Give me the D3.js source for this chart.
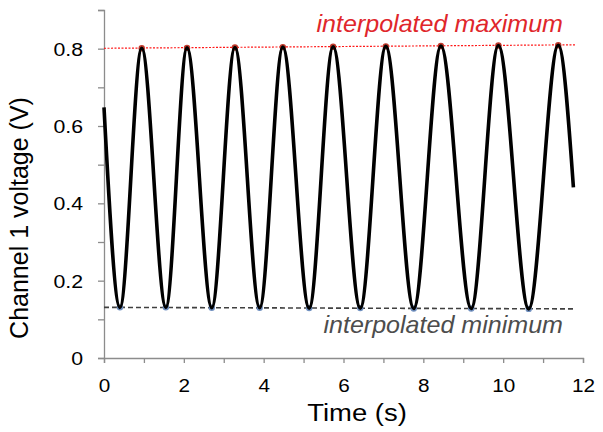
<!DOCTYPE html>
<html>
<head>
<meta charset="utf-8">
<script src="https://cdn.jsdelivr.net/npm/d3@7"></script>
<style>
  html, body { margin: 0; padding: 0; background: #fff; }
  svg { display: block; font-family: "Liberation Sans", Arial, sans-serif; }
</style>
</head>
<body>
<svg id="chart" width="603" height="432"></svg>
<script>
// ---- data ----
const peakTimes   = [0.945, 2.08, 3.28, 4.48, 5.74, 7.06, 8.44, 9.88, 11.38];
const peakValues  = [0.801, 0.802, 0.803, 0.804, 0.805, 0.806, 0.807, 0.808, 0.809];
const minTimes    = [0.40, 1.55, 2.70, 3.90, 5.14, 6.42, 7.76, 9.20, 10.64];
const minValues   = [0.131, 0.131, 0.130, 0.130, 0.129, 0.129, 0.128, 0.128, 0.127];
const startPoint  = [0, 0.648];
const endPoint    = [11.76, 0.441];
const maxLine     = [[0, 0.801], [11.8, 0.810]];
const minLine     = [[0, 0.131], [11.8, 0.127]];
const xTickValues = [0, 1, 2, 3, 4, 5, 6, 7, 8, 9, 10, 11, 12];
const xTickLabels = ["0", "2", "4", "6", "8", "10", "12"];
const yTickValues = [0, 0.1, 0.2, 0.3, 0.4, 0.5, 0.6, 0.7, 0.8, 0.9];
const yTickLabels = ["0", "0.2", "0.4", "0.6", "0.8"];
const xTitle = "Time (s)";
const yTitle = "Channel 1 voltage (V)";
const maxLabel = "interpolated maximum";
const minLabel = "interpolated minimum";

// ---- build signal series from extrema ----
const extrema = [];
minTimes.forEach((t, i) => extrema.push([t, minValues[i]]));
peakTimes.forEach((t, i) => extrema.push([t, peakValues[i]]));
const signal = [startPoint, ...extrema.sort((a, b) => a[0] - b[0]), endPoint];

const svg = d3.select("#chart");
const x = d3.scaleLinear().domain([0, 12]).range([104, 583]);
const y = d3.scaleLinear().domain([0, 0.9]).range([358, 10]);

const axisColor = "#8c8c8c";
const font = "Liberation Sans, Arial, sans-serif";

// x axis
const xAxis = svg.append("g")
  .attr("transform", `translate(0,${y(0)})`)
  .call(d3.axisBottom(x).tickValues(xTickValues).tickSizeOuter(0).tickSize(5)
    .tickFormat(d => (d % 2 === 0 ? xTickLabels[d / 2] : "")));
xAxis.select(".domain").attr("stroke", axisColor).attr("stroke-width", 1.3);
xAxis.selectAll(".tick line").attr("stroke", axisColor).attr("stroke-width", 1.3);
xAxis.selectAll(".tick text").attr("font-size", 18.5).attr("fill", "#000")
  .attr("dy", "0").attr("y", 34).attr("font-family", font)
  .attr("transform", "scale(1.12,1)");

// y axis
const yAxis = svg.append("g")
  .attr("transform", `translate(${x(0)},0)`)
  .call(d3.axisLeft(y).tickValues(yTickValues).tickSizeOuter(0).tickSize(6)
    .tickFormat(d => {
      const k = Math.round(d * 10);
      return k % 2 === 0 ? (yTickLabels[k / 2] || "") : "";
    }));
yAxis.select(".domain").attr("stroke", axisColor).attr("stroke-width", 1.3);
yAxis.selectAll(".tick line").attr("stroke", axisColor).attr("stroke-width", 1.3);
yAxis.selectAll(".tick text").attr("font-size", 18.5).attr("fill", "#000")
  .attr("x", -21 / 1.15).attr("dy", "0.35em").attr("font-family", font)
  .attr("transform", "scale(1.15,1)");

// interpolated lines
const lineGen = d3.line().x(d => x(d[0])).y(d => y(d[1]));
svg.append("path").attr("d", lineGen(maxLine))
  .attr("fill", "none").attr("stroke", "#ff1a1a").attr("stroke-width", 1.2)
  .attr("stroke-dasharray", "2,1.5");
svg.append("path").attr("d", lineGen(minLine))
  .attr("fill", "none").attr("stroke", "#404040").attr("stroke-width", 1.6)
  .attr("stroke-dasharray", "5,3");

// extrema dots
svg.append("g").selectAll("circle").data(peakTimes).join("circle")
  .attr("cx", (d) => x(d)).attr("cy", (d, i) => y(peakValues[i])).attr("r", 3.2)
  .attr("fill", "#c0392b");
svg.append("g").selectAll("circle").data(minTimes).join("circle")
  .attr("cx", (d) => x(d)).attr("cy", (d, i) => y(minValues[i])).attr("r", 3.2)
  .attr("fill", "#6f8fbf");

// signal
svg.append("path")
  .attr("d", d3.line().x(d => x(d[0])).y(d => y(d[1])).curve(d3.curveMonotoneX)(signal))
  .attr("fill", "none").attr("stroke", "#000").attr("stroke-width", 3.6)
  .attr("stroke-linejoin", "round");

// labels (horizontally stretched like the reference)
function stretchedText(cx, cy, sx, anchor) {
  return svg.append("text")
    .attr("transform", `translate(${cx},${cy}) scale(${sx},1)`)
    .attr("text-anchor", anchor);
}
stretchedText(563, 32, 1.09, "end")
  .attr("font-size", 23).attr("font-style", "italic").attr("fill", "#e0262b")
  .text(maxLabel);
stretchedText(563, 333, 1.09, "end")
  .attr("font-size", 23).attr("font-style", "italic").attr("fill", "#4d4d4d")
  .text(minLabel);

// axis titles
stretchedText(357, 421, 1.12, "middle")
  .attr("font-size", 24.5).attr("fill", "#000").text(xTitle);
svg.append("text").attr("transform", "translate(28,218) rotate(-90)")
  .attr("text-anchor", "middle").attr("font-size", 25).attr("fill", "#000").text(yTitle);
</script>
</body>
</html>
